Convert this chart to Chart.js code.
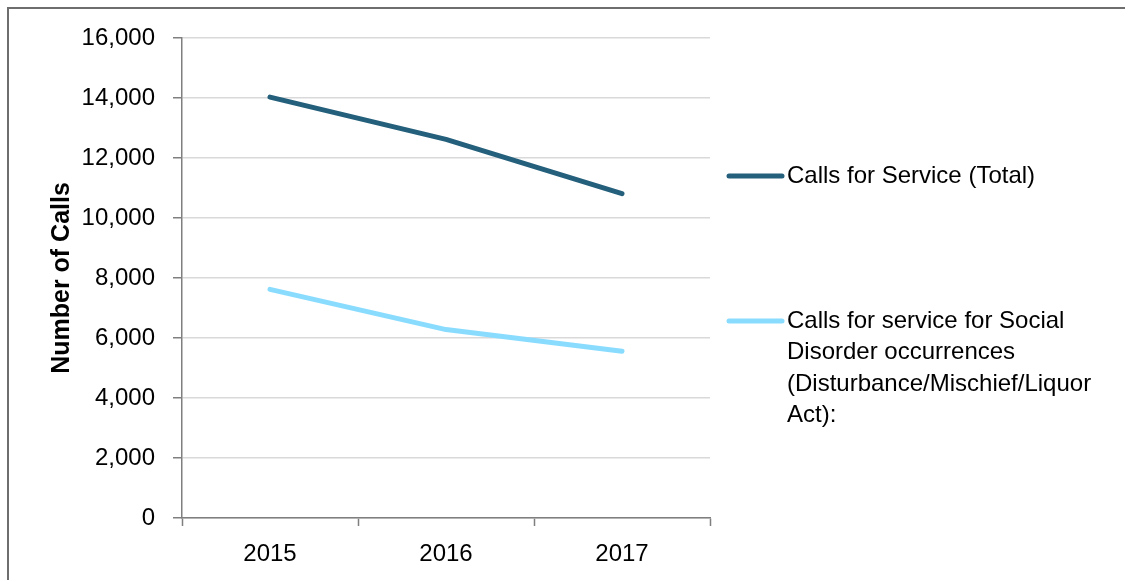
<!DOCTYPE html>
<html>
<head>
<meta charset="utf-8">
<script src="https://cdn.jsdelivr.net/npm/chart.js@4/dist/chart.umd.min.js"></script>
<style>
  html, body { margin: 0; padding: 0; background: #fff; }
  #wrap { position: relative; width: 1125px; height: 580px; }
</style>
</head>
<body>
<div id="wrap"><canvas id="callsChart"></canvas></div>
<script>
// Datos del gráfico
const years = ['2015', '2016', '2017'];
const totalCalls = [14030, 12620, 10810];
const socialDisorderCalls = [7620, 6280, 5560];
const seriesNames = [
    'Calls for Service (Total)',
    'Calls for service for Social Disorder occurrences (Disturbance/Mischief/Liquor Act):'
];
const seriesColors = ['#245f7b', '#8adcff'];
const yTicks = [0, 2000, 4000, 6000, 8000, 10000, 12000, 14000, 16000];

const FONT = '"Liberation Sans", Arial, sans-serif';
const axisGray = '#7f7f7f';

// Divide una etiqueta en varias líneas según el ancho
function wrapText(ctx, text, maxWidth) {
    const words = text.split(' ');
    const lines = [];
    let line = '';
    words.forEach(w => {
        const test = line ? line + ' ' + w : w;
        if (ctx.measureText(test).width > maxWidth && line) {
            lines.push(line);
            line = w;
        } else {
            line = test;
        }
    });
    if (line) lines.push(line);
    return lines;
}

// Marco de la imagen (solo arriba e izquierda)
const framePlugin = {
    id: 'frame',
    beforeDraw(chart) {
        const ctx = chart.ctx;
        ctx.save();
        ctx.strokeStyle = '#6e6e6e';
        ctx.lineWidth = 2;
        ctx.beginPath();
        ctx.moveTo(8, chart.height);
        ctx.lineTo(8, 8);
        ctx.lineTo(chart.width, 8);
        ctx.stroke();
        ctx.restore();
    }
};

// Leyenda a la derecha del gráfico
const sideLegend = {
    id: 'sideLegend',
    afterDraw(chart) {
        const ctx = chart.ctx;
        const rows = [176, 321];
        const lineH = 31.5;
        ctx.save();
        ctx.font = '24px ' + FONT;
        ctx.textBaseline = 'middle';
        ctx.fillStyle = '#000';
        chart.data.datasets.forEach((ds, i) => {
            const y = rows[i];
            ctx.strokeStyle = ds.borderColor;
            ctx.lineWidth = 5;
            ctx.lineCap = 'round';
            ctx.beginPath();
            ctx.moveTo(729, y);
            ctx.lineTo(782, y);
            ctx.stroke();
            wrapText(ctx, ds.label, 330).forEach((t, k) => {
                ctx.fillText(t, 787, y + k * lineH);
            });
        });
        ctx.restore();
    }
};

function initCallsChart() {
    const ctx = document.getElementById('callsChart').getContext('2d');

    const data = {
        labels: years,
        datasets: [
            {
                label: seriesNames[0],
                data: totalCalls,
                borderColor: seriesColors[0],
                backgroundColor: seriesColors[0],
                borderWidth: 5,
                pointRadius: 0,
                borderCapStyle: 'round',
                borderJoinStyle: 'round',
                tension: 0
            },
            {
                label: seriesNames[1],
                data: socialDisorderCalls,
                borderColor: seriesColors[1],
                backgroundColor: seriesColors[1],
                borderWidth: 5,
                pointRadius: 0,
                borderCapStyle: 'round',
                borderJoinStyle: 'round',
                tension: 0
            }
        ]
    };

    new Chart(ctx, {
        type: 'line',
        data: data,
        plugins: [framePlugin, sideLegend],
        options: {
            responsive: true,
            maintainAspectRatio: false,
            animation: false,
            layout: { padding: { top: 38, right: 415, bottom: 0, left: 0 } },
            plugins: {
                legend: { display: false },
                tooltip: { enabled: false }
            },
            scales: {
                x: {
                    offset: true,
                    grid: {
                        display: true,
                        offset: true,
                        drawOnChartArea: false,
                        drawTicks: true,
                        tickLength: 8,
                        tickColor: axisGray,
                        tickWidth: 1.5
                    },
                    border: { color: axisGray, width: 1.5 },
                    ticks: {
                        color: '#000',
                        padding: 14,
                        font: { family: FONT, size: 24 }
                    },
                    afterFit(scale) { scale.height = 62; }
                },
                y: {
                    min: 0,
                    max: 16000,
                    afterBuildTicks(scale) {
                        scale.ticks = yTicks.map(v => ({ value: v }));
                    },
                    grid: {
                        color: '#d9d9d9',
                        lineWidth: 1.5,
                        drawTicks: true,
                        tickLength: 9,
                        tickColor: axisGray,
                        tickWidth: 1.5
                    },
                    border: { color: axisGray, width: 1.5 },
                    ticks: {
                        color: '#000',
                        padding: 18,
                        font: { family: FONT, size: 24 },
                        callback: v => v.toLocaleString('en-US')
                    },
                    title: {
                        display: true,
                        text: 'Number of Calls',
                        color: '#000',
                        padding: { top: 47, bottom: 0 },
                        font: { family: FONT, size: 25, weight: 'bold' }
                    },
                    afterFit(scale) { scale.width = 182; }
                }
            }
        }
    });
}

document.addEventListener('DOMContentLoaded', initCallsChart);
</script>
</body>
</html>
